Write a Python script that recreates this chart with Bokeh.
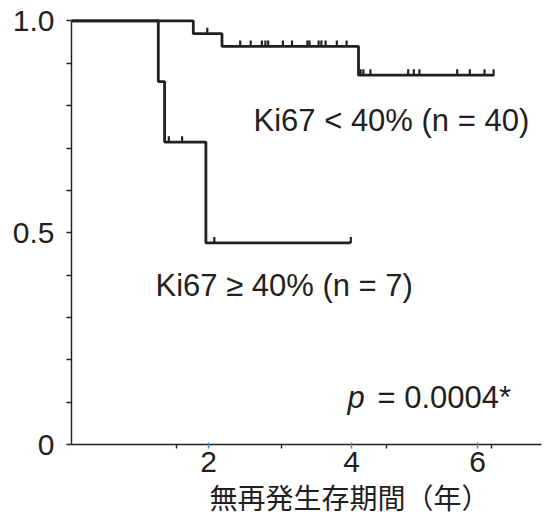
import numpy as np
from bokeh.plotting import figure
from bokeh.models import FixedTicker, Range1d, Title
from bokeh.core.properties import value
from bokeh.embed import file_html
from bokeh.resources import INLINE

# ---- data ----
# Ki67 < 40% (n = 40)
low_times = [0.0, 1.74, 2.15, 4.10, 6.04]
low_surv = [1.0, 0.97, 0.94, 0.872, 0.872]
low_cens = [1.94, 2.41, 2.56, 2.72, 2.77, 2.81, 3.02, 3.15, 3.37, 3.40, 3.53,
            3.57, 3.63, 3.79, 3.93, 4.13, 4.17, 4.27, 4.81, 4.89, 4.97, 5.51,
            5.69, 5.90, 6.03]
# Ki67 >= 40% (n = 7)
high_times = [0.0, 1.24, 1.33, 1.92, 3.99]
high_surv = [1.0, 0.857, 0.714, 0.476, 0.476]
high_cens = [1.39, 1.58, 2.04, 3.99]

x_tick_pos = [1.96, 4.0, 5.8]
x_tick_labels = ["2", "4", "6"]
x_minor = [1.5, 3.0, 4.5, 6.0]
y_tick_pos = [0.0, 0.5, 1.0]
y_tick_labels = ["0", "0.5", "1.0"]
y_minor = [0.1, 0.2, 0.3, 0.4, 0.6, 0.7, 0.8, 0.9]

label_low = "Ki67 < 40% (n = 40)"
label_high = "Ki67 \u2265 40% (n = 7)"
p_label_p = "p"
p_label_rest = "= 0.0004*"
x_title = "無再発生存期間（年）"

INK = "#231f20"
FONT = "Liberation Sans"
TICK_H = 0.014


def step_at(times, surv, t):
    idx = np.searchsorted(np.array(times), np.array(t), side="right") - 1
    return [surv[i] for i in idx]


p = figure(width=546, height=521, output_backend="svg", toolbar_location=None,
           x_range=Range1d(0, 6.714), y_range=Range1d(0, 1.02),
           min_border_left=71, min_border_right=5, min_border_top=12,
           min_border_bottom=77)
p.outline_line_color = None
p.grid.visible = False
p.background_fill_color = "white"

for times, surv, cens in [(low_times, low_surv, low_cens),
                          (high_times, high_surv, high_cens)]:
    p.step(times, surv, mode="after", line_color=INK, line_width=2.8)
    cs = step_at(times, surv, cens)
    p.segment(x0=cens, y0=cs, x1=cens, y1=[v + TICK_H for v in cs],
              line_color=INK, line_width=2.2)

# annotations
p.text(x=[2.6], y=[0.765], text=[label_low], text_font=value(FONT),
       text_font_size="31px", text_color=INK, text_baseline="alphabetic")
p.text(x=[1.2], y=[0.375], text=[label_high], text_font=value(FONT),
       text_font_size="31px", text_color=INK, text_baseline="alphabetic")
p.text(x=[3.943], y=[0.111], text=[p_label_p], text_font=value(FONT),
       text_font_style="italic", text_font_size="31px", text_color=INK,
       text_baseline="alphabetic")
p.text(x=[3.943], y=[0.111], text=[p_label_rest], text_font=value(FONT),
       text_font_size="31px", text_color=INK, text_baseline="alphabetic",
       x_offset=30)

# x axis title (offset to sit where the reference has it)
t = Title(text=x_title, align="left", offset=138, text_font="Noto Sans CJK JP",
          text_font_size="28px", text_color=INK, text_font_style="normal",
          standoff=0)
p.add_layout(t, "below")

# x axis
xa = p.xaxis[0]
xa.ticker = FixedTicker(ticks=x_tick_pos, minor_ticks=x_minor)
xa.major_label_overrides = {tk: lb for tk, lb in zip(x_tick_pos, x_tick_labels)}
xa.axis_line_color = INK
xa.axis_line_width = 1.4
xa.major_tick_line_color = "#4f86c6"
xa.major_tick_line_width = 1.5
xa.major_tick_in = 2
xa.major_tick_out = 4
xa.minor_tick_line_color = INK
xa.minor_tick_line_width = 1.4
xa.minor_tick_in = 0
xa.minor_tick_out = 4
xa.major_label_text_font = FONT
xa.major_label_text_font_size = "30px"
xa.major_label_text_color = INK
xa.major_label_standoff = 3

# y axis
ya = p.yaxis[0]
ya.ticker = FixedTicker(ticks=y_tick_pos, minor_ticks=y_minor)
ya.major_label_overrides = {tk: lb for tk, lb in zip(y_tick_pos, y_tick_labels)}
ya.bounds = (0, 1.0)
ya.axis_line_color = INK
ya.axis_line_width = 1.4
ya.major_tick_line_color = INK
ya.major_tick_line_width = 1.4
ya.major_tick_in = 0
ya.major_tick_out = 5
ya.minor_tick_line_color = INK
ya.minor_tick_line_width = 1.4
ya.minor_tick_in = 0
ya.minor_tick_out = 5
ya.major_label_text_font = FONT
ya.major_label_text_font_size = "30px"
ya.major_label_text_color = INK
ya.major_label_standoff = 12

open("out.html", "w").write(file_html(p, INLINE))
